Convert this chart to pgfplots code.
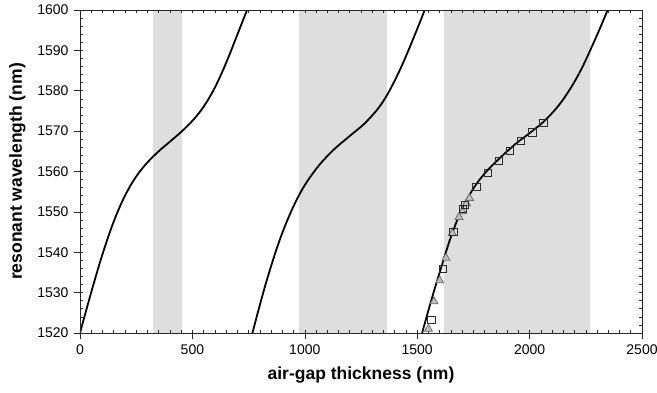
\documentclass[border=0pt]{standalone}
\usepackage{fontspec}
\setmainfont{Liberation Sans}
\usepackage{pgfplots}
\pgfplotsset{compat=1.18}
\definecolor{band}{HTML}{DEDEDE}
\definecolor{trifill}{HTML}{BEBEBE}
\definecolor{tridraw}{HTML}{6E6E6E}
\definecolor{sqdraw}{HTML}{2A2A2A}
\begin{document}
\begin{tikzpicture}
\pgfplotsset{
  common/.style={
    scale only axis, width=562pt, height=323pt,
    xmin=0, xmax=2500, ymin=1520, ymax=1600,
    xtick={0,500,...,2500}, ytick={1520,1530,...,1600},
    /pgf/number format/assume math mode=true,
    /pgf/number format/1000 sep={},
    tick label style={font=\fontsize{14}{17}\selectfont},
    label style={font=\fontsize{17.5}{21}\selectfont\bfseries},
  }
}
\begin{axis}[common,
  axis on top,
  tick align=inside,
  major tick length=3pt, minor tick length=3pt,
  minor x tick num=9, minor y tick num=4,
  axis line style={line width=0.8pt, black!85},
  tick style={line width=0.6pt, black!85},
  yticklabel style={xshift=-8pt},
  xticklabel style={yshift=-8pt},
  xlabel={air-gap thickness (nm)},
  ylabel={resonant wavelength (nm)},
  xlabel style={at={([yshift=-30pt]axis description cs:0.5,0)}, anchor=north},
  ylabel style={at={([xshift=-51pt]axis description cs:0,0.5)}, anchor=south},
]
% shaded bands
\addplot[fill=band, draw=none] coordinates {(325,1520) (325,1600) (455,1600) (455,1520)} -- cycle;
\addplot[fill=band, draw=none] coordinates {(975,1520) (975,1600) (1365,1600) (1365,1520)} -- cycle;
\addplot[fill=band, draw=none] coordinates {(1620,1520) (1620,1600) (2270,1600) (2270,1520)} -- cycle;
% curves
\addplot[black, line width=1.8pt, smooth, tension=0.6] coordinates {
 (0,1520) (50,1530.1) (100,1539.5) (150,1547.6) (200,1554.0) (250,1558.75)
 (300,1562.25) (350,1565.0) (400,1567.4) (450,1569.8) (500,1572.55) (550,1576.05)
 (600,1580.8) (650,1586.9) (700,1593.9) (743,1600)};
\addplot[black, line width=1.8pt, smooth, tension=0.6] coordinates {
 (767,1520) (830,1532.9) (900,1544.8) (975,1554.2) (1050,1560.6) (1125,1565.2)
 (1200,1568.8) (1275,1572.4) (1350,1577.5) (1425,1585.4) (1500,1595.3) (1533,1600)};
\addplot[black, line width=1.8pt, smooth, tension=0.6] coordinates {
 (1522,1520) (1560,1527.6) (1600,1535.0) (1650,1543.8) (1700,1550.8) (1750,1555.8)
 (1800,1559.5) (1850,1562.4) (1900,1565.0) (1950,1567.4) (2000,1569.5) (2075,1573.0)
 (2150,1577.9) (2225,1584.8) (2300,1593.8) (2347,1600)};
% triangles
\addplot[only marks, mark=triangle*, mark size=4.6pt,
  mark options={fill=trifill, draw=tridraw, line width=0.8pt}] coordinates {
 (1550,1521.0) (1575,1527.8) (1600,1533.0) (1628,1538.6) (1656,1544.7)
 (1686,1548.7) (1701,1550.1) (1719,1552.1) (1733,1553.4)};
% squares
\addplot[only marks, mark=square, mark size=3.6pt,
  mark options={draw=sqdraw, line width=0.8pt}] coordinates {
 (1563,1523.3) (1613,1535.8) (1661,1545.0) (1705,1550.7) (1713,1551.8)
 (1763,1556.1) (1815,1559.7) (1864,1562.7) (1913,1565.2) (1963,1567.6)
 (2012,1569.7) (2061,1572.1)};
\end{axis}
\begin{axis}[common,
  tick align=outside,
  major tick length=6pt,
  minor tick num=0,
  xtick pos=bottom, ytick pos=left,
  xticklabels={}, yticklabels={},
  axis line style={draw=none},
  tick style={line width=0.6pt, black!85},
]
\addplot[draw=none] coordinates {(0,1520)};
\end{axis}
\pgfresetboundingbox
\path[use as bounding box] ([shift={(-80pt,-59pt)}]current axis.south west) rectangle ([shift={(15pt,10pt)}]current axis.north east);
\end{tikzpicture}
\end{document}
